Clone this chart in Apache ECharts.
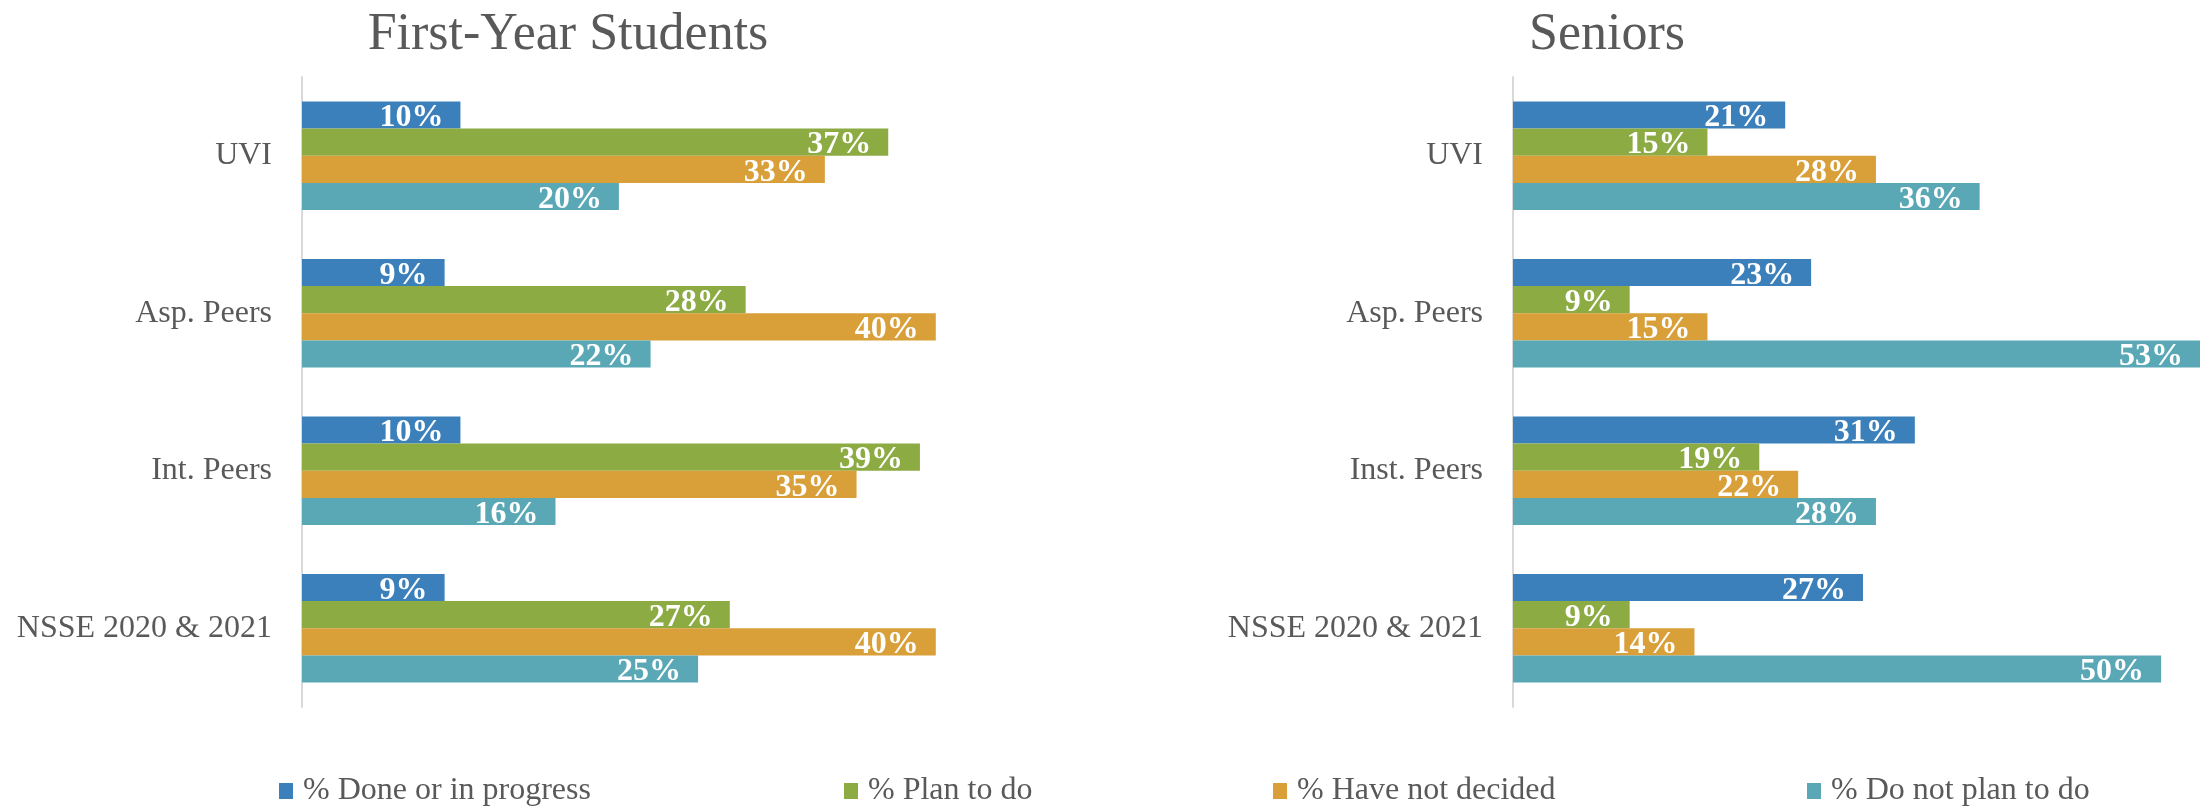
<!DOCTYPE html>
<html>
<head>
<meta charset="utf-8">
<script src="https://cdn.jsdelivr.net/npm/echarts@6/dist/echarts.min.js"></script>
<style>
  html, body { margin: 0; padding: 0; background: #fff; }
  #chart { width: 2200px; height: 807px; }
</style>
</head>
<body>
<div id="chart"></div>
<script>
const SERIES_NAMES = ['% Done or in progress', '% Plan to do', '% Have not decided', '% Do not plan to do'];
const COLORS = ['#3b80ba', '#8cab43', '#d99f39', '#5aa8b6'];

const firstYearCats = ['UVI', 'Asp. Peers', 'Int. Peers', 'NSSE 2020 & 2021'];
const firstYearDone = [10, 9, 10, 9];
const firstYearPlan = [37, 28, 39, 27];
const firstYearUndecided = [33, 40, 35, 40];
const firstYearNoPlan = [20, 22, 16, 25];

const seniorCats = ['UVI', 'Asp. Peers', 'Inst. Peers', 'NSSE 2020 & 2021'];
const seniorDone = [21, 23, 31, 27];
const seniorPlan = [15, 9, 19, 9];
const seniorUndecided = [28, 15, 22, 14];
const seniorNoPlan = [36, 53, 28, 50];

const FONT = '"Liberation Serif", serif';
const TEXT = '#595959';

const chart = echarts.init(document.getElementById('chart'));

function bars(data, i, axis) {
  return {
    name: SERIES_NAMES[i], type: 'bar', data: data,
    xAxisIndex: axis, yAxisIndex: axis,
    barGap: '0%', barCategoryGap: '31%',
    itemStyle: { color: COLORS[i] },
    label: {
      show: true, position: 'insideRight', distance: 17, offset: [0, 3],
      formatter: '{c}%', color: '#fff', fontWeight: 'bold',
      fontSize: 32, fontFamily: FONT
    }
  };
}

const catAxis = (cats, idx) => ({
  type: 'category', data: cats, gridIndex: idx, inverse: true,
  axisLine: { lineStyle: { color: '#d9d9d9', width: 2 } },
  axisTick: { show: false },
  axisLabel: { color: TEXT, fontSize: 32, fontFamily: FONT, margin: 30 }
});
const valAxis = (max, idx) => ({
  type: 'value', min: 0, max: max, gridIndex: idx, show: false
});

const legendLefts = [274, 839, 1268, 1802];

chart.setOption({
  animation: false,
  title: [
    { text: 'First-Year Students', left: 563, top: 4, textAlign: 'center',
      textStyle: { fontSize: 52, fontWeight: 'normal', color: TEXT, fontFamily: FONT } },
    { text: 'Seniors', left: 1602, top: 4, textAlign: 'center',
      textStyle: { fontSize: 52, fontWeight: 'normal', color: TEXT, fontFamily: FONT } }
  ],
  legend: SERIES_NAMES.map((n, i) => ({
    data: [n], left: legendLefts[i], top: 770,
    itemWidth: 14, itemHeight: 16, icon: 'rect',
    textStyle: { color: TEXT, fontSize: 32, fontFamily: FONT, padding: [0, 0, 0, 5] }
  })),
  grid: [
    { left: 302, top: 77, width: 713, height: 630 },
    { left: 1513, top: 77, right: 0, height: 630 }
  ],
  xAxis: [valAxis(45, 0), valAxis(53, 1)],
  yAxis: [catAxis(firstYearCats, 0), catAxis(seniorCats, 1)],
  series: [
    bars(firstYearDone, 0, 0), bars(firstYearPlan, 1, 0),
    bars(firstYearUndecided, 2, 0), bars(firstYearNoPlan, 3, 0),
    bars(seniorDone, 0, 1), bars(seniorPlan, 1, 1),
    bars(seniorUndecided, 2, 1), bars(seniorNoPlan, 3, 1)
  ]
});
</script>
</body>
</html>
